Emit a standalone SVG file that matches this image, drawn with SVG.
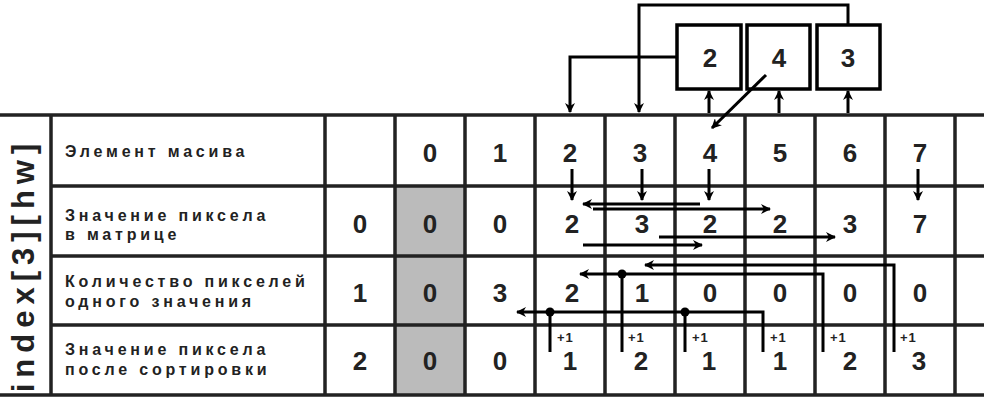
<svg xmlns="http://www.w3.org/2000/svg" width="984" height="401" viewBox="0 0 984 401">
<defs>
<style>
.grid{stroke:#222;stroke-width:3.5;fill:none}
.con{stroke:#000;stroke-width:3;fill:none}
.lbl{font-family:"Liberation Sans",Arial,sans-serif;font-weight:bold;font-size:16px;letter-spacing:3.8px;fill:#222}
.num{font-family:"Liberation Sans",Arial,sans-serif;font-weight:bold;font-size:26px;fill:#222;text-anchor:middle}
.inc{font-family:"Liberation Sans",Arial,sans-serif;font-weight:bold;font-size:13px;letter-spacing:1px;fill:#222}
.box{fill:#fff;stroke:#000;stroke-width:3.5}
.side{font-family:"Liberation Sans",Arial,sans-serif;font-weight:bold;font-size:31px;letter-spacing:6px;fill:#222;text-anchor:middle}
</style>
<marker id="ah" viewBox="0 0 10 10" refX="9" refY="5" markerWidth="10" markerHeight="10" markerUnits="userSpaceOnUse" orient="auto">
<path d="M0,0 L10,5 L0,10 L3,5 z" fill="#000"/>
</marker>
</defs>
<rect width="984" height="401" fill="#fff"/>
<g id="table">
<rect x="395" y="186" width="70" height="210" fill="#bbbbbb"/>
<path class="grid" d="M0,115 H984 M51,186 H984 M51,256 H984 M51,325 H984 M0,395 H984"/>
<path class="grid" d="M51,115 V395 M325,115 V395 M395,115 V395 M465,115 V395 M535,115 V395 M605,115 V395 M675,115 V395 M745,115 V395 M815,115 V395 M885,115 V395 M955,115 V395"/>
<text class="side" transform="translate(34,265) rotate(-90)">index[3][hw]</text>
<text class="lbl" x="65" y="157">Элемент масива</text>
<text class="lbl" x="65" y="221">Значение пиксела</text>
<text class="lbl" x="65" y="240">в матрице</text>
<text class="lbl" x="65" y="287">Количество пикселей</text>
<text class="lbl" x="65" y="307">одного значения</text>
<text class="lbl" x="65" y="355">Значение пиксела</text>
<text class="lbl" x="65" y="375">после сортировки</text>
</g>
<g id="row-index">
<text class="num" x="430" y="162">0</text>
<text class="num" x="500" y="162">1</text>
<text class="num" x="570" y="162">2</text>
<text class="num" x="640" y="162">3</text>
<text class="num" x="710" y="162">4</text>
<text class="num" x="780" y="162">5</text>
<text class="num" x="850" y="162">6</text>
<text class="num" x="920" y="162">7</text>
</g>
<g id="row-matrix">
<text class="num" x="360" y="233">0</text>
<text class="num" x="430" y="233">0</text>
<text class="num" x="500" y="233">0</text>
<text class="num" x="572" y="233">2</text>
<text class="num" x="642" y="233">3</text>
<text class="num" x="710" y="233">2</text>
<text class="num" x="780" y="233">2</text>
<text class="num" x="850" y="233">3</text>
<text class="num" x="920" y="233">7</text>
</g>
<g id="row-count">
<text class="num" x="360" y="302">1</text>
<text class="num" x="430" y="302">0</text>
<text class="num" x="500" y="302">3</text>
<text class="num" x="572" y="302">2</text>
<text class="num" x="642" y="302">1</text>
<text class="num" x="710" y="302">0</text>
<text class="num" x="780" y="302">0</text>
<text class="num" x="850" y="302">0</text>
<text class="num" x="920" y="302">0</text>
</g>
<g id="row-sorted">
<text class="num" x="360" y="370">2</text>
<text class="num" x="430" y="370">0</text>
<text class="num" x="500" y="370">0</text>
<text class="num" x="570" y="370">1</text>
<text class="num" x="641" y="370">2</text>
<text class="num" x="709" y="370">1</text>
<text class="num" x="780" y="370">1</text>
<text class="num" x="850" y="370">2</text>
<text class="num" x="919" y="370">3</text>
<text class="inc" x="557" y="342">+1</text>
<text class="inc" x="628" y="342">+1</text>
<text class="inc" x="692" y="342">+1</text>
<text class="inc" x="770" y="342">+1</text>
<text class="inc" x="830" y="342">+1</text>
<text class="inc" x="900" y="342">+1</text>
</g>
<g id="box-2"><rect class="box" x="677" y="25" width="64" height="64"/><text class="num" x="710" y="67">2</text></g>
<g id="box-4"><rect class="box" x="747" y="25" width="63" height="64"/><text class="num" x="779" y="67">4</text></g>
<g id="box-3"><rect class="box" x="817" y="25" width="63" height="64"/><text class="num" x="848" y="67">3</text></g>
<g id="connectors" class="con">
<path d="M677,57 H570 V112" marker-end="url(#ah)"/>
<path d="M848,25 V5 H639 V112" marker-end="url(#ah)"/>
<path d="M709,113 V91" marker-end="url(#ah)"/>
<path d="M779,113 V91" marker-end="url(#ah)"/>
<path d="M848,113 V91" marker-end="url(#ah)"/>
<path d="M766,75 L712,128" marker-end="url(#ah)"/>
<path d="M572,169 V200" marker-end="url(#ah)"/>
<path d="M642,169 V200" marker-end="url(#ah)"/>
<path d="M709,169 V200" marker-end="url(#ah)"/>
<path d="M918,169 V200" marker-end="url(#ah)"/>
<path d="M700,204 H583" marker-end="url(#ah)"/>
<path d="M593,209 H770" marker-end="url(#ah)"/>
<path d="M659,237 H835" marker-end="url(#ah)"/>
<path d="M583,245 H702" marker-end="url(#ah)"/>
<path d="M894,352 V265 H645" marker-end="url(#ah)"/>
<path d="M823,352 V274 H580" marker-end="url(#ah)"/>
<path d="M763,352 V312 H517" marker-end="url(#ah)"/>
<path d="M622,274 V352 M685,312 V352 M550,312 V352"/>
<circle cx="622" cy="274" r="4.5" fill="#000" stroke="none"/>
<circle cx="685" cy="312" r="4.5" fill="#000" stroke="none"/>
<circle cx="550" cy="312" r="4.5" fill="#000" stroke="none"/>
</g>
</svg>
